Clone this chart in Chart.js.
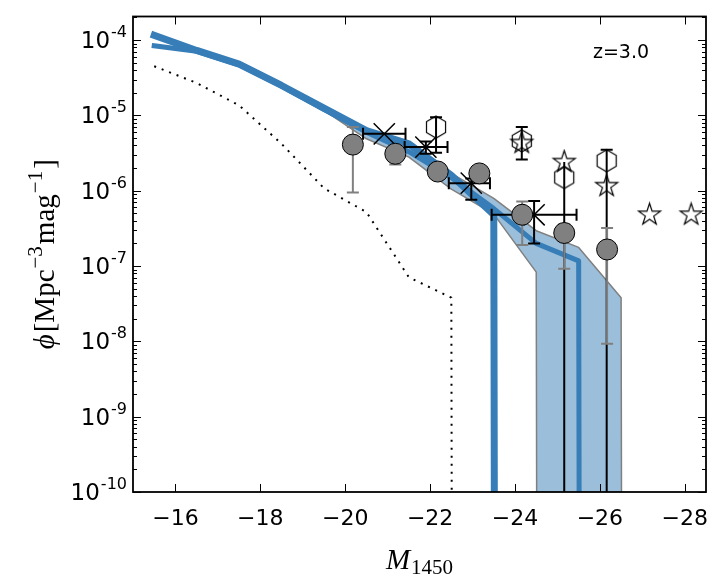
<!DOCTYPE html>
<html>
<head>
<meta charset="utf-8">
<script src="https://cdn.jsdelivr.net/npm/chart.js@4.4.1/dist/chart.umd.min.js"></script>
<style>
  html, body { margin: 0; padding: 0; background: #fff; }
</style>
</head>
<body>
<canvas id="lf" width="727" height="580"></canvas>
<script>
// model bins (M1450) and model luminosity functions
const modelM = [-15.5, -16.5, -17.5, -18.5, -19.5, -20.5, -21.5, -22.5, -23.5, -24.5, -25.5, -26.5, -27.5];
const modelA = [1.16e-4, 7.3e-5, 4.8e-5, 2.5e-5, 1.25e-5, 6.3e-6, 4.2e-6, 1.6e-6, 4.8e-7, 0, 0, 0, 0];
const modelB = [8.4e-5, 7.1e-5, 4.7e-5, 2.45e-5, 1.2e-5, 6.0e-6, 3.3e-6, 1.5e-6, 5.8e-7, 2.0e-7, 1.17e-7, 0, 0];
const bandHi = [1.19e-4, 7.4e-5, 4.9e-5, 2.55e-5, 1.28e-5, 6.5e-6, 4.3e-6, 1.7e-6, 7.9e-7, 2.95e-7, 1.77e-7, 3.8e-8, 0];
const bandLo = [1.1e-4, 7.0e-5, 4.6e-5, 2.4e-5, 1.17e-5, 4.9e-6, 2.8e-6, 1.05e-6, 4.9e-7, 8.3e-8, 0, 0, 0];
const dottedPhi = [4.5e-5, 2.7e-5, 1.36e-5, 4.2e-6, 1.08e-6, 5.2e-7, 7.1e-8, 3.8e-8, 0, 0, 0, 0, 0];

// observed points
const circM = [-20.18, -21.18, -22.18, -23.16, -24.17, -25.16, -26.17];
const circPhi = [4.1e-6, 3.1e-6, 1.8e-6, 1.7e-6, 4.8e-7, 2.75e-7, 1.66e-7];
const circLo = [9.5e-7, 2.24e-6, 1.5e-6, 1.4e-6, 1.9e-7, 9.2e-8, 9.3e-9];
const circHi = [7.0e-6, 4.0e-6, 2.1e-6, 2.0e-6, 7.2e-7, 3.6e-7, 3.2e-7];

const hexM = [-22.14, -24.16, -25.16, -26.16];
const hexPhi = [7.0e-6, 4.6e-6, 1.5e-6, 2.5e-6];
const hexLo = [3.2e-6, 2.6e-6, null, 0];
const hexHi = [9.5e-6, 7.0e-6, null, 3.5e-6];

const starM = [-24.16, -25.16, -26.16, -27.17, -28.15];
const starPhi = [4.3e-6, 2.4e-6, 1.15e-6, 4.8e-7, 4.8e-7];
const starLo = [null, 0, null, null, null];

const crossM = [-20.92, -21.9, -22.97, -24.45];
const crossPhi = [5.7e-6, 3.8e-6, 1.26e-6, 4.8e-7];
const crossLo = [null, 3.1e-6, 7.6e-7, 2.0e-7];
const crossHi = [null, 4.5e-6, 1.46e-6, 7.3e-7];
const crossMbright = [-20.42, -21.4, -22.44, -23.45];
const crossMfaint = [-21.42, -22.41, -23.41, -25.45];

// axes
const xTicks = [-16, -18, -20, -22, -24, -26, -28];
const yExps = [-10, -9, -8, -7, -6, -5, -4];

const FLOOR = 1e-300; // empty bins go to the bottom like a log clip
const BLUE = '#377eb8';

function pts(xs, ys) {
    return xs.map((x, i) => ({ x: x, y: ys[i] > 0 ? ys[i] : FLOOR }));
}

function markerCanvas(kind, r) {
    const s = Math.ceil(2 * r + 4);
    const c = document.createElement('canvas');
    c.width = s; c.height = s;
    const g = c.getContext('2d');
    g.translate(s / 2, s / 2);
    g.beginPath();
    if (kind === 'hex') {
        for (let i = 0; i < 6; i++) {
            const a = -Math.PI / 2 + i * Math.PI / 3;
            g.lineTo(r * Math.cos(a), r * Math.sin(a));
        }
    } else {
        for (let i = 0; i < 10; i++) {
            const a = -Math.PI / 2 + i * Math.PI / 5;
            const rr = i % 2 ? r * 0.381966 : r;
            g.lineTo(rr * Math.cos(a), rr * Math.sin(a));
        }
    }
    g.closePath();
    g.lineWidth = 1.2;
    g.strokeStyle = '#000';
    g.stroke();
    return c;
}

// error bars drawn just under each marker set
const errorBars = {
    id: 'errorBars',
    beforeDatasetDraw(chart, args) {
        const ds = chart.data.datasets[args.index];
        if (!ds.err) return;
        const { ctx, chartArea: a, scales: { x, y } } = chart;
        const e = ds.err;
        const cap = 6;
        ctx.save();
        ctx.beginPath();
        ctx.rect(a.left, a.top, a.right - a.left, a.bottom - a.top);
        ctx.clip();
        ctx.strokeStyle = e.color;
        ctx.lineWidth = 2;
        ds.data.forEach((p, i) => {
            const px = x.getPixelForValue(p.x);
            const py = y.getPixelForValue(p.y);
            ctx.beginPath();
            [e.lo && e.lo[i], e.hi && e.hi[i]].forEach(v => {
                if (v === null || v === undefined) return;
                const ey = y.getPixelForValue(v > 0 ? v : FLOOR);
                ctx.moveTo(px, py); ctx.lineTo(px, ey);
                ctx.moveTo(px - cap, ey); ctx.lineTo(px + cap, ey);
            });
            [e.xlo && e.xlo[i], e.xhi && e.xhi[i]].forEach(v => {
                if (v === null || v === undefined) return;
                const ex = x.getPixelForValue(v);
                ctx.moveTo(px, py); ctx.lineTo(ex, py);
                ctx.moveTo(ex, py - cap); ctx.lineTo(ex, py + cap);
            });
            ctx.stroke();
        });
        ctx.restore();
    }
};

function drawRuns(ctx, runs, cx, baseY) {
    let total = 0;
    runs.forEach(r => { ctx.font = r.font; r.w = ctx.measureText(r.t).width + (r.gap || 0); total += r.w; });
    let xx = cx - total / 2;
    runs.forEach(r => { ctx.font = r.font; ctx.fillText(r.t, xx, baseY + (r.dy || 0)); xx += r.w; });
}

// ticks inside, frame, labels
const frame = {
    id: 'frame',
    afterDraw(chart) {
        const { ctx, chartArea: a, scales: { x, y } } = chart;
        ctx.save();
        ctx.strokeStyle = '#000';
        ctx.lineWidth = 1;
        ctx.beginPath();
        xTicks.forEach(v => {
            const px = Math.round(x.getPixelForValue(v)) + 0.5;
            ctx.moveTo(px, a.bottom); ctx.lineTo(px, a.bottom - 8);
            ctx.moveTo(px, a.top); ctx.lineTo(px, a.top + 8);
        });
        yExps.forEach(e => {
            for (let k = 1; k <= 9; k++) {
                const v = k * Math.pow(10, e);
                if (v > y.max) break;
                const py = Math.round(y.getPixelForValue(v)) + 0.5;
                const len = k === 1 ? 8 : 4;
                ctx.moveTo(a.left, py); ctx.lineTo(a.left + len, py);
                ctx.moveTo(a.right, py); ctx.lineTo(a.right - len, py);
            }
        });
        ctx.stroke();
        ctx.lineWidth = 1.8;
        ctx.strokeRect(a.left, a.top, a.right - a.left, a.bottom - a.top);

        ctx.fillStyle = '#000';
        ctx.textBaseline = 'alphabetic';
        ctx.textAlign = 'center';
        ctx.font = '22px "DejaVu Sans"';
        xTicks.forEach(v => {
            ctx.fillText('\u2212' + Math.abs(v), x.getPixelForValue(v), a.bottom + 33);
        });

        ctx.textAlign = 'left';
        yExps.forEach(e => {
            const py = y.getPixelForValue(Math.pow(10, e));
            ctx.font = '23px "DejaVu Sans"';
            const wb = ctx.measureText('10').width;
            ctx.font = '16px "DejaVu Sans"';
            const sup = '-' + Math.abs(e);
            const ws = ctx.measureText(sup).width;
            const left = a.left - 7 - wb - ws;
            ctx.font = '23px "DejaVu Sans"';
            ctx.fillText('10', left, py + 8);
            ctx.font = '16px "DejaVu Sans"';
            ctx.fillText(sup, left + wb + 1, py - 3);
        });

        ctx.textAlign = 'center';
        ctx.font = '19px "DejaVu Sans"';
        ctx.fillText('z=3.0', 621, 58);

        ctx.textAlign = 'left';
        const serif = '"Liberation Serif", "DejaVu Serif", serif';
        drawRuns(ctx, [
            { t: 'M', font: 'italic 29px ' + serif, gap: 1 },
            { t: '1450', font: '21px ' + serif, dy: 5 }
        ], (a.left + a.right) / 2, 569);

        ctx.translate(54, (a.top + a.bottom) / 2);
        ctx.rotate(-Math.PI / 2);
        drawRuns(ctx, [
            { t: '\u03d5', font: 'italic 29px ' + serif, gap: 2 },
            { t: '[Mpc', font: '29px ' + serif, gap: 1 },
            { t: '\u22123', font: '21px ' + serif, dy: -12, gap: 2 },
            { t: 'mag', font: '29px ' + serif, gap: 1 },
            { t: '\u22121', font: '21px ' + serif, dy: -12, gap: 2 },
            { t: ']', font: '29px ' + serif }
        ], 0, 0);
        ctx.restore();
    }
};

const lineBase = { fill: false, pointRadius: 0, clip: 0, borderCapStyle: 'square', borderJoinStyle: 'round' };

new Chart(document.getElementById('lf'), {
    type: 'line',
    data: {
        datasets: [
            Object.assign({}, lineBase, {
                data: pts(modelM, bandHi), borderColor: '#808080', borderWidth: 1.5,
                backgroundColor: 'rgba(55,126,184,0.5)', fill: 1, order: 20, borderCapStyle: 'butt'
            }),
            Object.assign({}, lineBase, {
                data: pts(modelM, bandLo), borderColor: '#808080', borderWidth: 1.5, order: 19, borderCapStyle: 'butt'
            }),
            Object.assign({}, lineBase, {
                data: pts(modelM, dottedPhi), borderColor: '#000', borderWidth: 2,
                borderDash: [2, 6], borderCapStyle: 'butt', order: 18
            }),
            Object.assign({}, lineBase, {
                data: pts(modelM, modelA), borderColor: BLUE, borderWidth: 7, order: 17
            }),
            Object.assign({}, lineBase, {
                data: pts(modelM, modelB), borderColor: BLUE, borderWidth: 5, order: 16
            }),
            {
                data: pts(crossM, crossPhi), showLine: false, pointStyle: 'crossRot', pointRadius: 15,
                pointBorderColor: '#000', pointBorderWidth: 1.5, order: 5,
                err: { color: '#000', lo: crossLo, hi: crossHi, xlo: crossMbright, xhi: crossMfaint }
            },
            {
                data: pts(hexM, hexPhi), showLine: false, pointStyle: markerCanvas('hex', 11), pointRadius: 11,
                order: 4, err: { color: '#000', lo: hexLo, hi: hexHi }
            },
            {
                data: pts(starM, starPhi), showLine: false, pointStyle: markerCanvas('star', 11.5), pointRadius: 11,
                order: 3, err: { color: '#000', lo: starLo }
            },
            {
                data: pts(circM, circPhi), showLine: false, pointStyle: 'circle', pointRadius: 10.5,
                pointBackgroundColor: '#808080', pointBorderColor: '#000', pointBorderWidth: 1, order: 1,
                err: { color: '#808080', lo: circLo, hi: circHi }
            }
        ]
    },
    options: {
        responsive: false,
        animation: false,
        devicePixelRatio: 1,
        events: [],
        layout: { padding: { left: 133, right: 21, top: 14, bottom: 88 } },
        plugins: { legend: { display: false }, tooltip: { enabled: false } },
        scales: {
            x: { type: 'linear', min: -28.5, max: -15, reverse: true, display: false },
            y: { type: 'logarithmic', min: 1e-10, max: 2.06e-4, display: false }
        }
    },
    plugins: [errorBars, frame]
});
</script>
</body>
</html>
